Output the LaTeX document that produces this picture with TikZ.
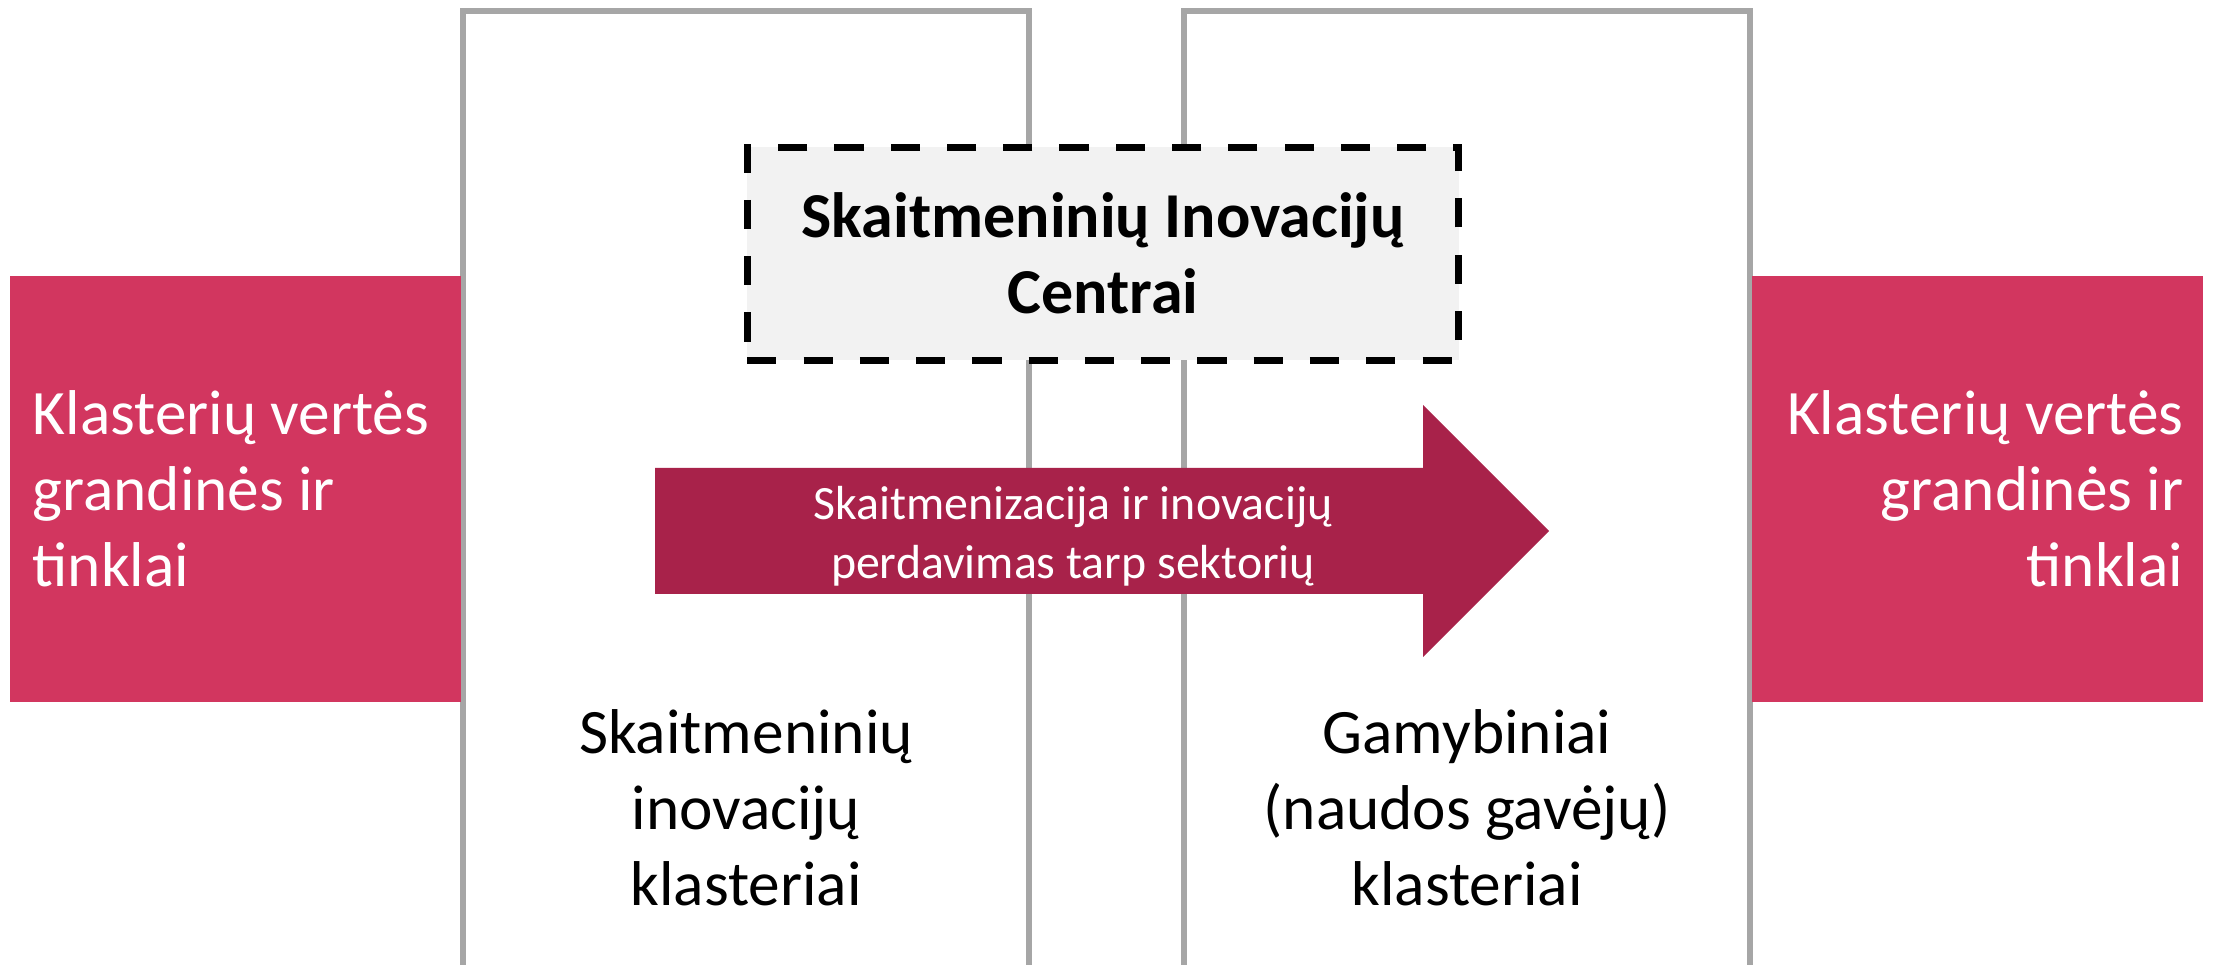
\documentclass[tikz,border=0pt]{standalone}
\usepackage{fontspec}
\setmainfont{Carlito}
\definecolor{pinkbox}{HTML}{D2365F}
\definecolor{arrowred}{HTML}{A8224A}
\definecolor{framegray}{HTML}{A6A6A6}
\definecolor{centerfill}{HTML}{F2F2F2}
\begin{document}
\begin{tikzpicture}[x=0.01cm,y=-0.01cm,
  frame/.style={draw=framegray,line width=1.45pt},
  sidebox/.style={fill=pinkbox,inner sep=0pt,minimum width=4.5cm,minimum height=4.26cm},
  sidetext/.style={text=white,inner sep=0pt,font=\fontsize{18}{21.6}\selectfont},
  centerbox/.style={fill=centerfill,draw=black,line width=2pt,
    dash pattern=on 8.3pt off 7.7pt,minimum width=7.11cm,minimum height=2.125cm,
    align=center,font=\bfseries\fontsize{18.2}{21.6}\selectfont},
  arrowtext/.style={text=white,align=center,font=\fontsize{13.6}{16.8}\selectfont},
  bodytext/.style={text=black,align=center,font=\fontsize{18}{21.6}\selectfont}]
\useasboundingbox (0,0) rectangle (2213,965);
% cluster frames
\draw[frame] (463,965) -- (463,11) -- (1029,11) -- (1029,965);
\draw[frame] (1184,965) -- (1184,11) -- (1750,11) -- (1750,965);
% centres
\node[centerbox] (centres) at (1103,253.75) {Skaitmeninių Inovacijų\\Centrai};
% transfer arrow
\path[fill=arrowred] (655,468) -- (1423,468) -- (1423,405) -- (1549,531)
  -- (1423,657) -- (1423,594) -- (655,594) -- cycle;
\node[arrowtext] (transfer) at (1073,536) {Skaitmenizacija ir inovacijų\\perdavimas tarp sektorių};
% side boxes
\node[sidebox] (leftchain) at (235.5,489) {};
\node[sidebox] (rightchain) at (1977.5,489) {};
\node[sidetext,align=left,anchor=west] (lefttext) at (32,489) {Klasterių vertės\\grandinės ir\\tinklai};
\node[sidetext,align=right,anchor=east] (righttext) at (2184,489) {Klasterių vertės\\grandinės ir\\tinklai};
% cluster labels
\node[bodytext] (digital) at (746,808) {Skaitmeninių\\inovacijų\\klasteriai};
\node[bodytext] (production) at (1467,808) {Gamybiniai\\(naudos gavėjų)\\klasteriai};
\end{tikzpicture}
\end{document}
